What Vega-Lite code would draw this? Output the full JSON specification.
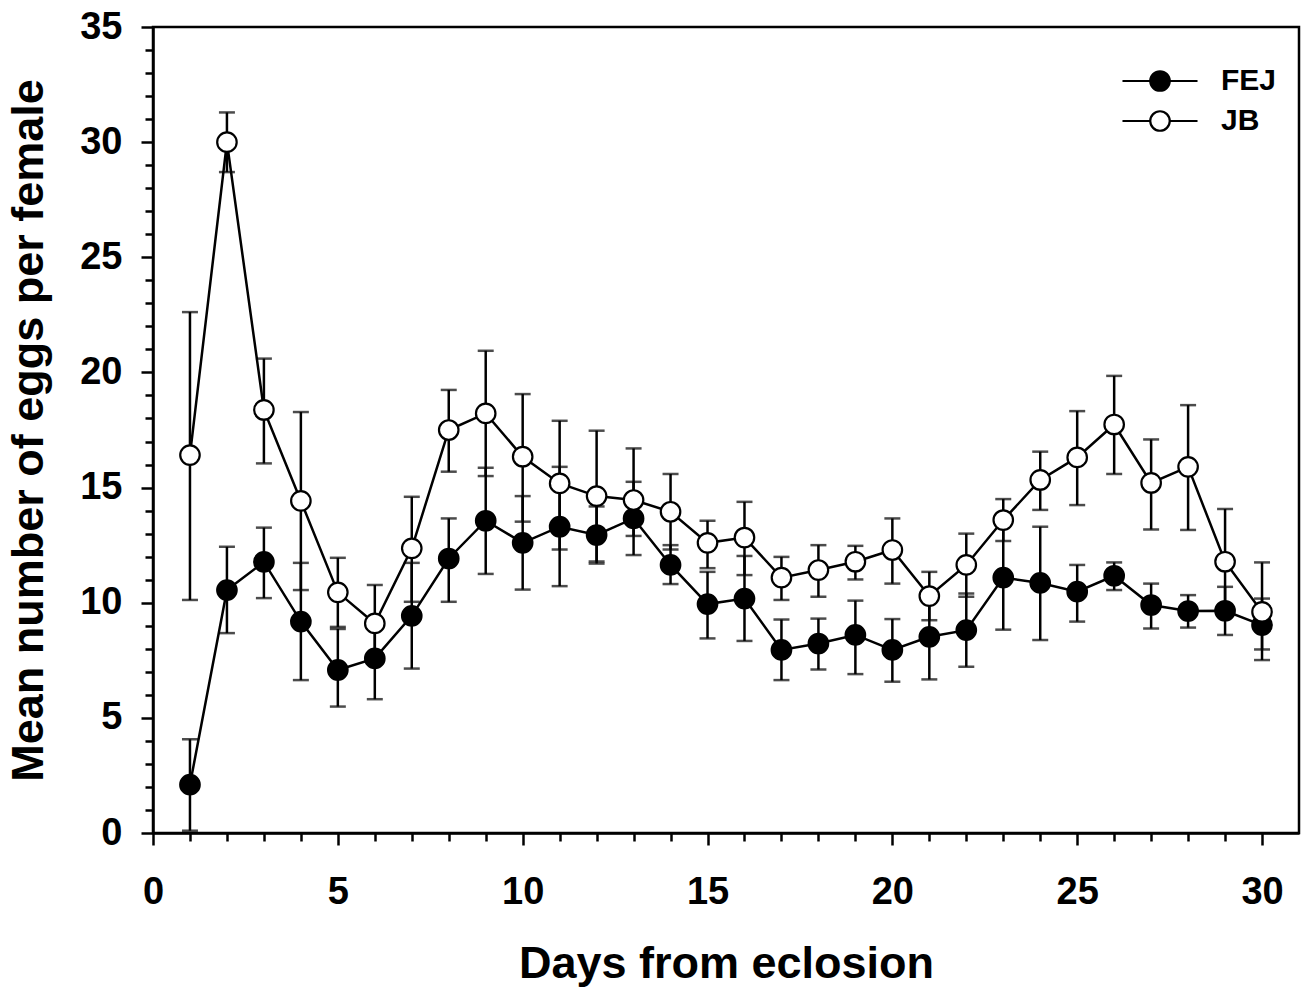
{
  "$schema": "https://vega.github.io/schema/vega-lite/v6.json",
  "width": 1146,
  "height": 806,
  "autosize": {"type": "none"},
  "padding": {"left": 153, "top": 27, "right": 2, "bottom": 161},
  "background": "white",
  "config": {
    "font": "Liberation Sans",
    "view": {"stroke": "black", "strokeWidth": 2.5},
    "axis": {
      "domainColor": "black",
      "domainWidth": 2.5,
      "tickColor": "black",
      "tickWidth": 2.5,
      "grid": false,
      "labelFont": "Liberation Sans",
      "labelFontWeight": "bold",
      "labelFontSize": 38,
      "labelColor": "black",
      "titleFont": "Liberation Sans",
      "titleFontWeight": "bold",
      "titleFontSize": 45,
      "titleColor": "black",
      "labelOverlap": false,
      "labelBound": false,
      "labelFlush": false
    }
  },
  "data": {
    "values": [
      {"day": 1, "series": "FEJ", "mean": 2.1, "lo": 0.1, "hi": 4.07},
      {"day": 2, "series": "FEJ", "mean": 10.55, "lo": 8.68, "hi": 12.43},
      {"day": 3, "series": "FEJ", "mean": 11.77, "lo": 10.2, "hi": 13.26},
      {"day": 4, "series": "FEJ", "mean": 9.18, "lo": 6.64, "hi": 11.73},
      {"day": 5, "series": "FEJ", "mean": 7.08, "lo": 5.49, "hi": 8.86},
      {"day": 6, "series": "FEJ", "mean": 7.58, "lo": 5.81, "hi": 9.35},
      {"day": 7, "series": "FEJ", "mean": 9.43, "lo": 7.14, "hi": 11.73},
      {"day": 8, "series": "FEJ", "mean": 11.92, "lo": 10.04, "hi": 13.66},
      {"day": 9, "series": "FEJ", "mean": 13.56, "lo": 11.25, "hi": 15.86},
      {"day": 10, "series": "FEJ", "mean": 12.6, "lo": 10.57, "hi": 14.63},
      {"day": 11, "series": "FEJ", "mean": 13.3, "lo": 10.72, "hi": 15.9},
      {"day": 12, "series": "FEJ", "mean": 12.94, "lo": 11.7, "hi": 14.18},
      {"day": 13, "series": "FEJ", "mean": 13.66, "lo": 12.07, "hi": 15.25},
      {"day": 14, "series": "FEJ", "mean": 11.64, "lo": 10.81, "hi": 12.5},
      {"day": 15, "series": "FEJ", "mean": 9.94, "lo": 8.45, "hi": 11.34},
      {"day": 16, "series": "FEJ", "mean": 10.18, "lo": 8.34, "hi": 12.03},
      {"day": 17, "series": "FEJ", "mean": 7.95, "lo": 6.64, "hi": 9.27},
      {"day": 18, "series": "FEJ", "mean": 8.23, "lo": 7.1, "hi": 9.31},
      {"day": 19, "series": "FEJ", "mean": 8.6, "lo": 6.9, "hi": 10.09},
      {"day": 20, "series": "FEJ", "mean": 7.95, "lo": 6.57, "hi": 9.29},
      {"day": 21, "series": "FEJ", "mean": 8.52, "lo": 6.67, "hi": 10.37},
      {"day": 22, "series": "FEJ", "mean": 8.81, "lo": 7.22, "hi": 10.4},
      {"day": 23, "series": "FEJ", "mean": 11.09, "lo": 8.83, "hi": 13.35},
      {"day": 24, "series": "FEJ", "mean": 10.86, "lo": 8.38, "hi": 13.3},
      {"day": 25, "series": "FEJ", "mean": 10.48, "lo": 9.18, "hi": 11.64},
      {"day": 26, "series": "FEJ", "mean": 11.17, "lo": 10.55, "hi": 11.75},
      {"day": 27, "series": "FEJ", "mean": 9.9, "lo": 8.88, "hi": 10.83},
      {"day": 28, "series": "FEJ", "mean": 9.64, "lo": 8.92, "hi": 10.33},
      {"day": 29, "series": "FEJ", "mean": 9.65, "lo": 8.6, "hi": 10.69},
      {"day": 30, "series": "FEJ", "mean": 9.03, "lo": 7.51, "hi": 10.18},
      {"day": 1, "series": "JB", "mean": 16.41, "lo": 10.12, "hi": 22.62},
      {"day": 2, "series": "JB", "mean": 30.0, "lo": 28.7, "hi": 31.29},
      {"day": 3, "series": "JB", "mean": 18.37, "lo": 16.05, "hi": 20.6},
      {"day": 4, "series": "JB", "mean": 14.42, "lo": 10.55, "hi": 18.28},
      {"day": 5, "series": "JB", "mean": 10.45, "lo": 8.95, "hi": 11.95},
      {"day": 6, "series": "JB", "mean": 9.1, "lo": 7.43, "hi": 10.77},
      {"day": 7, "series": "JB", "mean": 12.36, "lo": 10.04, "hi": 14.6},
      {"day": 8, "series": "JB", "mean": 17.5, "lo": 15.69, "hi": 19.24},
      {"day": 9, "series": "JB", "mean": 18.22, "lo": 15.5, "hi": 20.94},
      {"day": 10, "series": "JB", "mean": 16.34, "lo": 13.52, "hi": 19.06},
      {"day": 11, "series": "JB", "mean": 15.18, "lo": 12.31, "hi": 17.9},
      {"day": 12, "series": "JB", "mean": 14.63, "lo": 11.79, "hi": 17.47},
      {"day": 13, "series": "JB", "mean": 14.46, "lo": 12.9, "hi": 16.7},
      {"day": 14, "series": "JB", "mean": 13.95, "lo": 12.31, "hi": 15.59},
      {"day": 15, "series": "JB", "mean": 12.6, "lo": 11.5, "hi": 13.56},
      {"day": 16, "series": "JB", "mean": 12.83, "lo": 11.2, "hi": 14.38},
      {"day": 17, "series": "JB", "mean": 11.09, "lo": 10.12, "hi": 11.99},
      {"day": 18, "series": "JB", "mean": 11.42, "lo": 10.26, "hi": 12.5},
      {"day": 19, "series": "JB", "mean": 11.78, "lo": 11.01, "hi": 12.47},
      {"day": 20, "series": "JB", "mean": 12.29, "lo": 10.83, "hi": 13.66},
      {"day": 21, "series": "JB", "mean": 10.29, "lo": 9.24, "hi": 11.34},
      {"day": 22, "series": "JB", "mean": 11.64, "lo": 10.26, "hi": 13.0},
      {"day": 23, "series": "JB", "mean": 13.59, "lo": 12.68, "hi": 14.5},
      {"day": 24, "series": "JB", "mean": 15.33, "lo": 14.03, "hi": 16.56},
      {"day": 25, "series": "JB", "mean": 16.31, "lo": 14.24, "hi": 18.32},
      {"day": 26, "series": "JB", "mean": 17.74, "lo": 15.59, "hi": 19.85},
      {"day": 27, "series": "JB", "mean": 15.2, "lo": 13.18, "hi": 17.09},
      {"day": 28, "series": "JB", "mean": 15.9, "lo": 13.16, "hi": 18.58},
      {"day": 29, "series": "JB", "mean": 11.78, "lo": 9.48, "hi": 14.07},
      {"day": 30, "series": "JB", "mean": 9.6, "lo": 7.97, "hi": 11.75}
    ]
  },
  "encoding": {
    "x": {
      "field": "day",
      "type": "quantitative",
      "scale": {"domain": [0, 31], "nice": false, "zero": false},
      "axis": {
        "title": "Days from eclosion",
        "values": [0,1,2,3,4,5,6,7,8,9,10,11,12,13,14,15,16,17,18,19,20,21,22,23,24,25,26,27,28,29,30],
        "labelExpr": "datum.value % 5 === 0 ? datum.label : ''",
        "tickSize": {"condition": {"test": "datum.value % 5 === 0", "value": 12}, "value": 8},
        "labelOverlap": false,
        "labelPadding": 28,
        "titlePadding": 30
      }
    }
  },
  "layer": [
    {
      "mark": {"type": "rule", "color": "black", "strokeWidth": 2.5},
      "encoding": {
        "y": {
          "field": "lo",
          "type": "quantitative",
          "title": "Mean number of eggs per female",
          "scale": {"domain": [0, 35], "nice": false},
          "axis": {
            "values": [0,1,2,3,4,5,6,7,8,9,10,11,12,13,14,15,16,17,18,19,20,21,22,23,24,25,26,27,28,29,30,31,32,33,34,35],
            "labelExpr": "datum.value % 5 === 0 ? datum.label : ''",
            "labelFontSize": {"condition": {"test": "datum.value % 5 === 0", "value": 38}, "value": 1},
            "tickSize": {"condition": {"test": "datum.value % 5 === 0", "value": 12}, "value": 8},
            "labelOverlap": false,
            "labelBound": false,
            "labelPadding": 19,
            "titlePadding": 28
          }
        },
        "y2": {"field": "hi"}
      }
    },
    {
      "mark": {"type": "tick", "orient": "horizontal", "color": "black", "size": 16, "thickness": 2.5},
      "encoding": {
        "y": {
          "field": "lo",
          "type": "quantitative",
          "title": "Mean number of eggs per female",
          "axis": {
            "values": [0,1,2,3,4,5,6,7,8,9,10,11,12,13,14,15,16,17,18,19,20,21,22,23,24,25,26,27,28,29,30,31,32,33,34,35],
            "labelExpr": "datum.value % 5 === 0 ? datum.label : ''",
            "labelFontSize": {"condition": {"test": "datum.value % 5 === 0", "value": 38}, "value": 1},
            "tickSize": {"condition": {"test": "datum.value % 5 === 0", "value": 12}, "value": 8},
            "labelOverlap": false,
            "labelBound": false,
            "labelPadding": 19,
            "titlePadding": 28
          }
        }
      }
    },
    {
      "mark": {"type": "tick", "orient": "horizontal", "color": "black", "size": 16, "thickness": 2.5},
      "encoding": {
        "y": {
          "field": "hi",
          "type": "quantitative",
          "title": "Mean number of eggs per female",
          "axis": {
            "values": [0,1,2,3,4,5,6,7,8,9,10,11,12,13,14,15,16,17,18,19,20,21,22,23,24,25,26,27,28,29,30,31,32,33,34,35],
            "labelExpr": "datum.value % 5 === 0 ? datum.label : ''",
            "labelFontSize": {"condition": {"test": "datum.value % 5 === 0", "value": 38}, "value": 1},
            "tickSize": {"condition": {"test": "datum.value % 5 === 0", "value": 12}, "value": 8},
            "labelOverlap": false,
            "labelBound": false,
            "labelPadding": 19,
            "titlePadding": 28
          }
        }
      }
    },
    {
      "mark": {"type": "line", "color": "black", "strokeWidth": 2.5},
      "encoding": {
        "y": {
          "field": "mean",
          "type": "quantitative",
          "title": "Mean number of eggs per female",
          "axis": {
            "values": [0,1,2,3,4,5,6,7,8,9,10,11,12,13,14,15,16,17,18,19,20,21,22,23,24,25,26,27,28,29,30,31,32,33,34,35],
            "labelExpr": "datum.value % 5 === 0 ? datum.label : ''",
            "labelFontSize": {"condition": {"test": "datum.value % 5 === 0", "value": 38}, "value": 1},
            "tickSize": {"condition": {"test": "datum.value % 5 === 0", "value": 12}, "value": 8},
            "labelOverlap": false,
            "labelBound": false,
            "labelPadding": 19,
            "titlePadding": 28
          }
        },
        "detail": {"field": "series", "type": "nominal"}
      }
    },
    {
      "mark": {"type": "point", "filled": true, "size": 380, "stroke": "black", "strokeWidth": 2.2, "opacity": 1},
      "encoding": {
        "y": {
          "field": "mean",
          "type": "quantitative",
          "title": "Mean number of eggs per female",
          "axis": {
            "values": [0,1,2,3,4,5,6,7,8,9,10,11,12,13,14,15,16,17,18,19,20,21,22,23,24,25,26,27,28,29,30,31,32,33,34,35],
            "labelExpr": "datum.value % 5 === 0 ? datum.label : ''",
            "labelFontSize": {"condition": {"test": "datum.value % 5 === 0", "value": 38}, "value": 1},
            "tickSize": {"condition": {"test": "datum.value % 5 === 0", "value": 12}, "value": 8},
            "labelOverlap": false,
            "labelBound": false,
            "labelPadding": 19,
            "titlePadding": 28
          }
        },
        "fill": {
          "field": "series",
          "type": "nominal",
          "scale": {"domain": ["FEJ", "JB"], "range": ["black", "white"]},
          "legend": {
            "title": null,
            "orient": "none",
            "legendX": 992,
            "legendY": 39,
            "padding": 0,
            "symbolType": "M-3.85,0L-1,0M1,0L3.85,0M1,0A1,1,0,1,1,-1,0A1,1,0,1,1,1,0Z",
            "symbolSize": 380,
            "symbolStrokeColor": "black",
            "symbolStrokeWidth": 2.2,
            "symbolOpacity": 1,
            "labelFont": "Liberation Sans",
            "labelFontWeight": "bold",
            "labelFontSize": 30,
            "labelColor": "black",
            "labelOffset": 46,
            "rowPadding": 10
          }
        }
      }
    }
  ]
}
